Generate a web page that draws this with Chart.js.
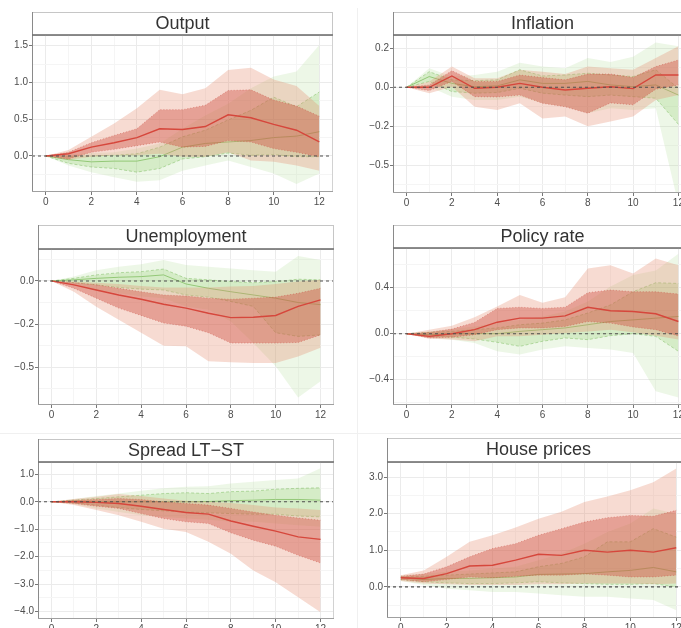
<!DOCTYPE html>
<html>
<head>
<meta charset="utf-8">
<script src="https://cdn.jsdelivr.net/npm/chart.js@4.4.1/dist/chart.umd.min.js"></script>
<style>
  html, body { margin: 0; padding: 0; width: 681px; height: 628px; overflow: hidden; background: #fff; }
  canvas { position: absolute; }
  .sep { position: absolute; background: #f0f0f0; }
</style>
</head>
<body>
<div class="sep" style="left:357px;top:8px;width:1px;height:620px"></div>
<div class="sep" style="left:0;top:433px;width:681px;height:1px"></div>
<script>
// ---------- data: impulse responses, horizons 0..12 ----------
const HORIZON = [0, 1, 2, 3, 4, 5, 6, 7, 8, 9, 10, 11, 12];
const X_TICKS = [0, 2, 4, 6, 8, 10, 12];
const X_LABELS = ['0', '2', '4', '6', '8', '10', '12'];

// Output
const OUTPUT_RED      = [0, 0.03, 0.12, 0.18, 0.25, 0.37, 0.36, 0.40, 0.56, 0.52, 0.43, 0.35, 0.19];
const OUTPUT_RED_68L  = [0, -0.04, 0.05, 0.09, 0.14, 0.19, 0.12, 0.13, 0.21, 0.19, 0.10, 0.05, -0.01];
const OUTPUT_RED_68U  = [0, 0.05, 0.18, 0.28, 0.37, 0.63, 0.63, 0.69, 0.89, 0.90, 0.76, 0.68, 0.54];
const OUTPUT_RED_90L  = [0, -0.05, -0.01, 0.01, 0.01, 0.03, -0.01, -0.01, 0.05, -0.06, -0.08, -0.13, -0.20];
const OUTPUT_RED_90U  = [0, 0.08, 0.26, 0.44, 0.65, 0.90, 0.84, 0.92, 1.17, 1.20, 1.04, 0.95, 0.68];
const OUTPUT_GRN      = [0, -0.05, -0.08, -0.07, -0.07, -0.01, 0.12, 0.17, 0.19, 0.21, 0.25, 0.27, 0.33];
const OUTPUT_GRN_68L  = [0, -0.10, -0.15, -0.17, -0.22, -0.17, -0.04, -0.01, 0.04, 0.01, 0.02, -0.01, -0.01];
const OUTPUT_GRN_68U  = [0, -0.01, 0, 0.01, 0.03, 0.12, 0.26, 0.35, 0.49, 0.62, 0.80, 0.67, 0.87];
const OUTPUT_GRN_90L  = [0, -0.13, -0.22, -0.29, -0.35, -0.33, -0.20, -0.13, -0.06, -0.15, -0.24, -0.38, -0.24];
const OUTPUT_GRN_90U  = [0, 0.02, 0.04, 0.05, 0.10, 0.17, 0.37, 0.55, 0.71, 0.92, 1.08, 1.15, 1.51];
const OUTPUT_YTICKS = [0, 0.5, 1, 1.5];
const OUTPUT_YLABELS = ['0.0', '0.5', '1.0', '1.5'];

// Inflation
const INFL_RED      = [0, 0, 0.058, -0.005, 0, 0.02, 0, -0.014, -0.005, 0.003, -0.007, 0.063, 0.063];
const INFL_RED_68L  = [0, -0.017, 0.03, -0.048, -0.05, -0.04, -0.082, -0.10, -0.133, -0.08, -0.09, -0.01, 0.012];
const INFL_RED_68U  = [0, 0.012, 0.085, 0.03, 0.03, 0.063, 0.05, 0.038, 0.068, 0.068, 0.05, 0.106, 0.14];
const INFL_RED_90L  = [0, -0.03, 0.003, -0.10, -0.116, -0.082, -0.16, -0.15, -0.20, -0.176, -0.15, -0.065, -0.04];
const INFL_RED_90U  = [0, 0.03, 0.106, 0.046, 0.046, 0.09, 0.08, 0.068, 0.106, 0.097, 0.09, 0.15, 0.21];
const INFL_GRN      = [0, 0.055, 0.02, 0.003, 0.007, 0.038, 0.02, 0.02, 0.03, 0.012, 0.003, 0.012, -0.04];
const INFL_GRN_68L  = [0, 0.03, -0.022, -0.03, -0.027, -0.005, -0.03, -0.04, -0.048, -0.04, -0.048, -0.056, -0.19];
const INFL_GRN_68U  = [0, 0.08, 0.038, 0.034, 0.038, 0.09, 0.058, 0.063, 0.072, 0.063, 0.055, 0.09, -0.005];
const INFL_GRN_90L  = [0, 0.003, -0.048, -0.065, -0.065, -0.048, -0.082, -0.10, -0.133, -0.108, -0.116, -0.108, -0.60];
const INFL_GRN_90U  = [0, 0.097, 0.055, 0.063, 0.08, 0.126, 0.106, 0.097, 0.15, 0.13, 0.157, 0.23, 0.21];
const INFL_YTICKS = [-0.4, -0.2, 0, 0.2];
const INFL_YLABELS = ['\u22120.5', '\u22120.2', '0.0', '0.2'];

// Unemployment
const UNEMP_RED      = [0, -0.018, -0.042, -0.065, -0.085, -0.108, -0.126, -0.15, -0.17, -0.168, -0.16, -0.118, -0.088];
const UNEMP_RED_68L  = [0, -0.034, -0.08, -0.126, -0.16, -0.195, -0.21, -0.24, -0.288, -0.288, -0.288, -0.285, -0.25];
const UNEMP_RED_68U  = [0, -0.008, -0.018, -0.034, -0.05, -0.065, -0.07, -0.08, -0.085, -0.08, -0.075, -0.057, -0.034];
const UNEMP_RED_90L  = [0, -0.05, -0.12, -0.18, -0.24, -0.30, -0.303, -0.372, -0.377, -0.38, -0.38, -0.35, -0.31];
const UNEMP_RED_90U  = [0, -0.003, -0.008, -0.014, -0.023, -0.03, -0.03, -0.03, -0.026, -0.023, -0.014, -0.003, 0.005];
const UNEMP_GRN      = [0, 0.005, 0.012, 0.017, 0.02, 0.028, -0.014, -0.034, -0.05, -0.065, -0.08, -0.10, -0.11];
const UNEMP_GRN_68L  = [0, -0.008, -0.018, -0.03, -0.038, -0.042, -0.065, -0.075, -0.095, -0.118, -0.24, -0.257, -0.25];
const UNEMP_GRN_68U  = [0, 0.012, 0.028, 0.038, 0.043, 0.055, 0.012, 0.005, -0.003, -0.008, -0.003, 0.008, 0.005];
const UNEMP_GRN_90L  = [0, -0.018, -0.042, -0.057, -0.072, -0.08, -0.118, -0.134, -0.188, -0.288, -0.395, -0.54, -0.465];
const UNEMP_GRN_90U  = [0, 0.02, 0.05, 0.066, 0.077, 0.097, 0.074, 0.066, 0.058, 0.05, 0.043, 0.115, 0.097];
const UNEMP_YTICKS = [-0.4, -0.2, 0];
const UNEMP_YLABELS = ['\u22120.5', '\u22120.2', '0.0'];

// Policy rate
const POLICY_RED      = [0, -0.023, 0, 0.035, 0.10, 0.135, 0.135, 0.155, 0.23, 0.20, 0.193, 0.173, 0.106];
const POLICY_RED_68L  = [0, -0.037, -0.03, -0.009, 0.035, 0.05, 0.05, 0.063, 0.106, 0.092, 0.058, 0.035, -0.02];
const POLICY_RED_68U  = [0, 0.012, 0.04, 0.098, 0.22, 0.23, 0.22, 0.23, 0.357, 0.38, 0.365, 0.365, 0.345];
const POLICY_RED_90L  = [0, -0.045, -0.05, -0.066, -0.023, -0.023, -0.009, 0.006, 0.02, 0.035, 0.012, -0.017, -0.05];
const POLICY_RED_90U  = [0, 0.035, 0.07, 0.144, 0.236, 0.337, 0.27, 0.317, 0.567, 0.596, 0.524, 0.653, 0.596];
const POLICY_GRN      = [0, -0.009, 0, 0, 0, 0.02, 0.035, 0.05, 0.078, 0.106, 0.12, 0.135, 0.15];
const POLICY_GRN_68L  = [0, -0.023, -0.03, -0.046, -0.075, -0.11, -0.066, -0.037, -0.052, -0.017, 0, -0.023, -0.153];
const POLICY_GRN_68U  = [0, 0.012, 0.02, 0.035, 0.05, 0.078, 0.092, 0.12, 0.18, 0.25, 0.365, 0.443, 0.437];
const POLICY_GRN_90L  = [0, -0.037, -0.052, -0.08, -0.153, -0.18, -0.138, -0.11, -0.124, -0.138, -0.167, -0.50, -0.555];
const POLICY_GRN_90U  = [0, 0.02, 0.04, 0.063, 0.092, 0.12, 0.15, 0.193, 0.28, 0.41, 0.51, 0.55, 0.696];
const POLICY_YTICKS = [-0.4, 0, 0.4];
const POLICY_YLABELS = ['\u22120.4', '0.0', '0.4'];

// Spread LT-ST
const SPREAD_RED      = [0, 0, -0.02, -0.06, -0.16, -0.28, -0.39, -0.45, -0.70, -0.89, -1.07, -1.28, -1.37];
const SPREAD_RED_68L  = [0, -0.06, -0.16, -0.24, -0.43, -0.61, -0.73, -0.79, -1.13, -1.40, -1.62, -1.95, -2.23];
const SPREAD_RED_68U  = [0, 0.06, 0.085, 0.12, 0.085, 0, -0.06, -0.12, -0.24, -0.37, -0.49, -0.59, -0.67];
const SPREAD_RED_90L  = [0, -0.12, -0.30, -0.49, -0.73, -0.98, -1.10, -1.46, -1.89, -2.50, -2.93, -3.48, -4.02];
const SPREAD_RED_90U  = [0, 0.10, 0.18, 0.28, 0.21, 0.12, 0.04, 0, -0.04, -0.12, -0.21, -0.24, -0.30];
const SPREAD_GRN      = [0, 0.02, 0, 0, 0, 0, 0, 0.01, 0.04, 0.06, 0.085, 0.085, 0.06];
const SPREAD_GRN_68L  = [0, -0.04, -0.12, -0.21, -0.28, -0.33, -0.37, -0.40, -0.43, -0.45, -0.45, -0.52, -0.55];
const SPREAD_GRN_68U  = [0, 0.06, 0.12, 0.18, 0.24, 0.30, 0.33, 0.30, 0.37, 0.39, 0.46, 0.49, 0.51];
const SPREAD_GRN_90L  = [0, -0.09, -0.24, -0.37, -0.49, -0.55, -0.61, -0.65, -0.73, -0.73, -0.79, -0.85, -0.91];
const SPREAD_GRN_90U  = [0, 0.10, 0.21, 0.30, 0.40, 0.49, 0.55, 0.57, 0.67, 0.73, 0.79, 0.85, 1.22];
const SPREAD_YTICKS = [-4, -3, -2, -1, 0, 1];
const SPREAD_YLABELS = ['\u22124.0', '\u22123.0', '\u22122.0', '\u22121.0', '0.0', '1.0'];

// House prices
const HOUSE_RED      = [0.25, 0.23, 0.36, 0.57, 0.59, 0.73, 0.89, 0.86, 1.00, 0.95, 1.00, 0.95, 1.07];
const HOUSE_RED_68L  = [0.20, 0.14, 0.20, 0.27, 0.25, 0.29, 0.32, 0.32, 0.35, 0.32, 0.27, 0.27, 0.32];
const HOUSE_RED_68U  = [0.29, 0.35, 0.55, 0.82, 1.05, 1.18, 1.41, 1.59, 1.77, 1.89, 1.95, 1.93, 2.09];
const HOUSE_RED_90L  = [0.16, 0.09, 0.07, 0.05, 0.05, 0.05, 0.07, 0.07, 0.09, 0.09, 0.09, 0.07, 0.09];
const HOUSE_RED_90U  = [0.32, 0.45, 0.82, 1.23, 1.41, 1.62, 1.86, 2.05, 2.32, 2.47, 2.64, 2.86, 3.23];
const HOUSE_GRN      = [0.25, 0.20, 0.23, 0.23, 0.25, 0.27, 0.34, 0.35, 0.36, 0.41, 0.45, 0.53, 0.41];
const HOUSE_GRN_68L  = [0.20, 0.14, 0.11, 0.09, 0.09, 0.11, 0.14, 0.11, 0.09, 0.07, 0.07, 0.09, 0];
const HOUSE_GRN_68U  = [0.27, 0.29, 0.32, 0.35, 0.38, 0.41, 0.55, 0.64, 0.82, 1.23, 1.23, 1.59, 1.36];
const HOUSE_GRN_90L  = [0.16, 0.05, -0.05, -0.09, -0.14, -0.14, -0.18, -0.23, -0.27, -0.27, -0.32, -0.36, -0.64];
const HOUSE_GRN_90U  = [0.32, 0.36, 0.41, 0.45, 0.50, 0.55, 0.73, 0.91, 1.18, 1.50, 1.73, 2.14, 2.00];
const HOUSE_YTICKS = [0, 1, 2, 3];
const HOUSE_YLABELS = ['0.0', '1.0', '2.0', '3.0'];

// ---------- panels ----------
const PANELS = [
  { title: 'Output', yMin: -0.49, yMax: 1.645, yTicks: OUTPUT_YTICKS, yLabels: OUTPUT_YLABELS,
    red: [OUTPUT_RED, OUTPUT_RED_68L, OUTPUT_RED_68U, OUTPUT_RED_90L, OUTPUT_RED_90U],
    grn: [OUTPUT_GRN, OUTPUT_GRN_68L, OUTPUT_GRN_68U, OUTPUT_GRN_90L, OUTPUT_GRN_90U],
    box: { cl: 0, st: 12, l: 32, t: 35, r: 333, b: 192 } },
  { title: 'Inflation', yMin: -0.542, yMax: 0.268, yTicks: INFL_YTICKS, yLabels: INFL_YLABELS,
    red: [INFL_RED, INFL_RED_68L, INFL_RED_68U, INFL_RED_90L, INFL_RED_90U],
    grn: [INFL_GRN, INFL_GRN_68L, INFL_GRN_68U, INFL_GRN_90L, INFL_GRN_90U],
    box: { cl: 350, st: 12, l: 393, t: 35, r: 692, b: 193 } },
  { title: 'Unemployment', yMin: -0.575, yMax: 0.148, yTicks: UNEMP_YTICKS, yLabels: UNEMP_YLABELS,
    red: [UNEMP_RED, UNEMP_RED_68L, UNEMP_RED_68U, UNEMP_RED_90L, UNEMP_RED_90U],
    grn: [UNEMP_GRN, UNEMP_GRN_68L, UNEMP_GRN_68U, UNEMP_GRN_90L, UNEMP_GRN_90U],
    box: { cl: 0, st: 225, l: 38, t: 249, r: 334, b: 405 } },
  { title: 'Policy rate', yMin: -0.62, yMax: 0.745, yTicks: POLICY_YTICKS, yLabels: POLICY_YLABELS,
    red: [POLICY_RED, POLICY_RED_68L, POLICY_RED_68U, POLICY_RED_90L, POLICY_RED_90U],
    grn: [POLICY_GRN, POLICY_GRN_68L, POLICY_GRN_68U, POLICY_GRN_90L, POLICY_GRN_90U],
    box: { cl: 350, st: 225, l: 393, t: 248, r: 692, b: 405 } },
  { title: 'Spread LT\u2212ST', yMin: -4.27, yMax: 1.45, yTicks: SPREAD_YTICKS, yLabels: SPREAD_YLABELS,
    red: [SPREAD_RED, SPREAD_RED_68L, SPREAD_RED_68U, SPREAD_RED_90L, SPREAD_RED_90U],
    grn: [SPREAD_GRN, SPREAD_GRN_68L, SPREAD_GRN_68U, SPREAD_GRN_90L, SPREAD_GRN_90U],
    box: { cl: 0, st: 439, l: 38, t: 462, r: 334, b: 619 } },
  { title: 'House prices', yMin: -0.85, yMax: 3.41, yTicks: HOUSE_YTICKS, yLabels: HOUSE_YLABELS,
    red: [HOUSE_RED, HOUSE_RED_68L, HOUSE_RED_68U, HOUSE_RED_90L, HOUSE_RED_90U],
    grn: [HOUSE_GRN, HOUSE_GRN_68L, HOUSE_GRN_68U, HOUSE_GRN_90L, HOUSE_GRN_90U],
    box: { cl: 350, st: 438, l: 387, t: 462, r: 690, b: 618 } },
];

const FONT = "'Liberation Sans', Arial, Helvetica, sans-serif";
const XH = 16;
const X_MIN = -0.6, X_MAX = 12.6;

const COL = {
  red: '#d6473c',
  red68: 'rgba(205,75,60,0.40)',
  red90: 'rgba(230,140,110,0.31)',
  redEdge: 'rgba(200,70,60,0.55)',
  grn: '#93c877',
  grn68: 'rgba(140,200,100,0.24)',
  grn90: 'rgba(170,215,140,0.21)',
  grnEdge: 'rgba(120,185,90,0.6)',
  none: 'rgba(0,0,0,0)',
  gridMajor: '#ebebeb',
  gridMinor: '#f5f5f5',
  tick: '#4d4d4d',
};

Chart.defaults.font.family = FONT;

function pts(arr) { return arr.map((y, i) => ({ x: HORIZON[i], y })); }

function band(lo, hi, fillColor, edgeColor, dash, order) {
  const common = { borderColor: edgeColor, borderWidth: 0.8, borderDash: dash, order };
  return [
    { ...common, data: pts(lo), fill: false },
    { ...common, data: pts(hi), fill: '-1', backgroundColor: fillColor },
  ];
}

function withMinors(majors, min, max) {
  const step = majors[1] - majors[0];
  const out = majors.slice();
  for (let i = -1; i < majors.length; i++) {
    const v = i < 0 ? majors[0] - step / 2 : majors[i] + step / 2;
    if (v > min && v < max) out.push(v);
  }
  return out.sort((a, b) => a - b);
}

function labelFor(v, majors, labels) {
  const i = majors.findIndex(m => Math.abs(m - v) < 1e-9);
  return i >= 0 ? labels[i] : '';
}

const panelFrame = {
  id: 'panelFrame',
  beforeDraw(chart) {
    const { ctx } = chart;
    const tb = chart.titleBlock;
    ctx.save();
    ctx.fillStyle = '#fff';
    ctx.fillRect(tb.left, tb.top, tb.width, tb.height);
    ctx.strokeStyle = '#c6c6c6';
    ctx.lineWidth = 1;
    ctx.strokeRect(tb.left + 0.5, tb.top + 0.5, tb.width - 1, tb.height);
    ctx.restore();
  },
  afterDatasetsDraw(chart) {
    const { ctx, chartArea: a } = chart;
    const y0 = chart.scales.y.getPixelForValue(0);
    ctx.save();
    ctx.strokeStyle = '#4d4d4d';
    ctx.lineWidth = 1.1;
    ctx.setLineDash([3, 3]);
    ctx.beginPath();
    ctx.moveTo(a.left, y0);
    ctx.lineTo(a.right, y0);
    ctx.stroke();
    ctx.restore();
  },
  afterDraw(chart) {
    const { ctx, chartArea: a } = chart;
    const tb = chart.titleBlock;
    ctx.save();
    ctx.lineWidth = 1;
    ctx.strokeStyle = '#d2d2d2';
    ctx.strokeRect(a.left + 0.5, a.top, a.width - 1, a.height - 0.5);
    ctx.strokeStyle = '#8a8a8a';
    ctx.beginPath();
    ctx.moveTo(a.left + 0.5, tb.top);
    ctx.lineTo(a.left + 0.5, a.bottom);
    ctx.stroke();
    ctx.strokeStyle = '#a0a0a0';
    ctx.beginPath();
    ctx.moveTo(a.left, a.bottom - 0.5);
    ctx.lineTo(a.right, a.bottom - 0.5);
    ctx.stroke();
    ctx.strokeStyle = '#6e6e6e';
    ctx.lineWidth = 1.5;
    ctx.beginPath();
    ctx.moveTo(a.left, a.top);
    ctx.lineTo(a.right, a.top);
    ctx.stroke();
    ctx.restore();
  }
};

PANELS.forEach(p => {
  const bx = p.box;
  const canvas = document.createElement('canvas');
  const w = bx.r - bx.cl + 1;
  const h = bx.b - bx.st + XH;
  canvas.width = w; canvas.height = h;
  canvas.style.left = bx.cl + 'px';
  canvas.style.top = bx.st + 'px';
  canvas.style.width = w + 'px';
  canvas.style.height = h + 'px';
  document.body.appendChild(canvas);

  const [rMed, r68l, r68u, r90l, r90u] = p.red;
  const [gMed, g68l, g68u, g90l, g90u] = p.grn;
  const datasets = [
    ...band(g90l, g90u, COL.grn90, COL.none, [], 60),
    ...band(g68l, g68u, COL.grn68, COL.grnEdge, [3, 2], 50),
    { data: pts(gMed), borderColor: COL.grn, borderWidth: 1, fill: false, order: 40 },
    ...band(r90l, r90u, COL.red90, COL.none, [], 30),
    ...band(r68l, r68u, COL.red68, COL.redEdge, [1, 2], 20),
    { data: pts(rMed), borderColor: COL.red, borderWidth: 1.4, fill: false, order: 10 },
  ];

  const xAll = withMinors(X_TICKS, X_MIN, X_MAX);
  const yAll = withMinors(p.yTicks, p.yMin, p.yMax);
  const stripH = bx.t - bx.st;
  const isMajorX = v => X_TICKS.some(m => Math.abs(m - v) < 1e-9);
  const isMajorY = v => p.yTicks.some(m => Math.abs(m - v) < 1e-9);

  new Chart(canvas, {
    type: 'line',
    data: { datasets },
    plugins: [panelFrame],
    options: {
      responsive: false,
      animation: false,
      devicePixelRatio: 1,
      layout: { padding: { left: 0, right: 1, top: 0, bottom: 0 } },
      elements: { point: { radius: 0 }, line: { tension: 0 } },
      plugins: {
        legend: { display: false },
        tooltip: { enabled: false },
        title: {
          display: true, text: p.title, fullSize: false, color: '#333',
          font: { family: FONT, size: 18, weight: 'normal', lineHeight: '20px' },
          padding: { top: 2, bottom: stripH - 22 }
        }
      },
      scales: {
        x: {
          type: 'linear', min: X_MIN, max: X_MAX,
          afterBuildTicks: s => { s.ticks = xAll.map(v => ({ value: v })); },
          afterFit: s => { s.height = XH; },
          border: { display: false },
          grid: {
            color: c => isMajorX(c.tick.value) ? COL.gridMajor : COL.gridMinor,
            tickColor: c => isMajorX(c.tick.value) ? '#777' : COL.none,
            tickLength: 3
          },
          ticks: {
            autoSkip: false, maxRotation: 0, padding: 1, color: COL.tick,
            font: { family: FONT, size: 10 },
            callback: v => labelFor(v, X_TICKS, X_LABELS)
          }
        },
        y: {
          type: 'linear', min: p.yMin, max: p.yMax,
          afterBuildTicks: s => { s.ticks = yAll.map(v => ({ value: v })); },
          afterFit: s => { s.width = bx.l - bx.cl; },
          border: { display: false },
          grid: {
            color: c => isMajorY(c.tick.value) ? COL.gridMajor : COL.gridMinor,
            tickColor: c => isMajorY(c.tick.value) ? '#777' : COL.none,
            tickLength: 3
          },
          ticks: {
            autoSkip: false, padding: 1, color: COL.tick,
            font: { family: FONT, size: 10 },
            callback: v => labelFor(v, p.yTicks, p.yLabels)
          }
        }
      }
    }
  });
});
</script>
</body>
</html>
